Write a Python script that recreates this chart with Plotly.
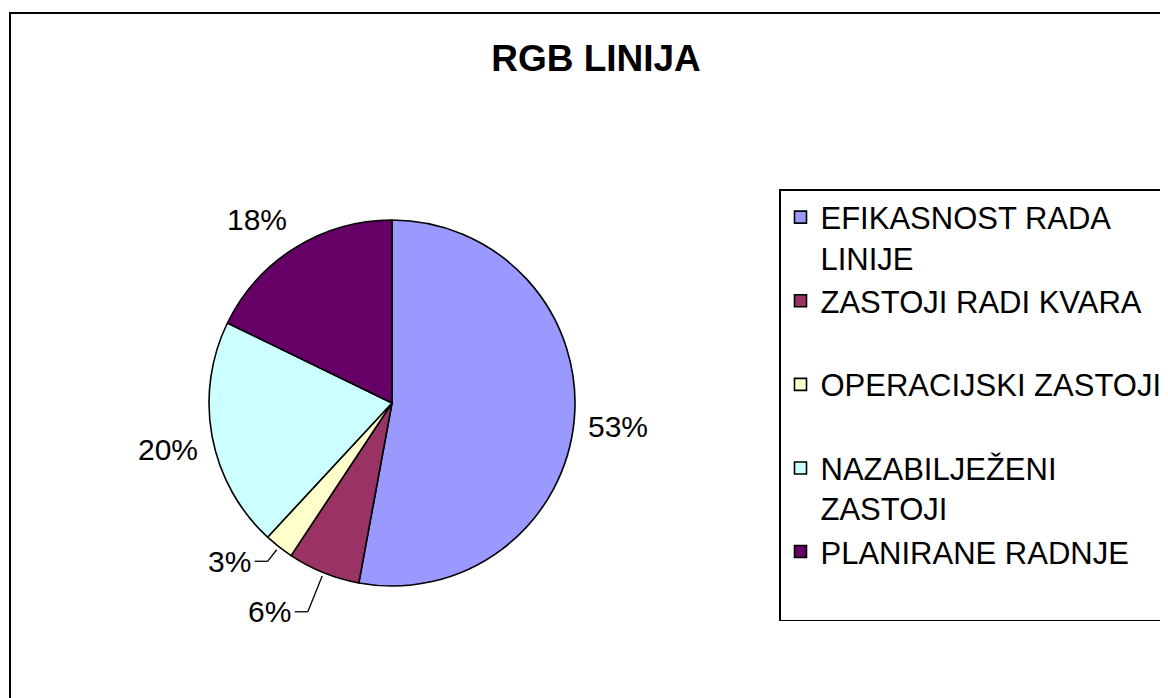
import math
import plotly.graph_objects as go

# ---- data ----
categories = ["EFIKASNOST RADA LINIJE", "ZASTOJI RADI KVARA", "OPERACIJSKI ZASTOJI",
              "NAZABILJEŽENI ZASTOJI", "PLANIRANE RADNJE"]
legend_labels = ["EFIKASNOST RADA<br>LINIJE", "ZASTOJI RADI KVARA<br> ", "OPERACIJSKI ZASTOJI<br> ",
                 "NAZABILJEŽENI<br>ZASTOJI", "PLANIRANE RADNJE<br> "]
values = [52.9, 6.4, 2.6, 20.3, 17.8]
title_text = "RGB LINIJA"

# ---- style / layout ----
colors = ["#9999FF", "#993366", "#FFFFCC", "#CCFFFF", "#660066"]
PAGE_OFF = 8            # default body margin of the html page
W, H = 1160, 690        # figure size (fits the 1168x698 window with the page margin)
CX, CY, R = 392, 403, 183
FONT = "Liberation Sans, Arial, sans-serif"
leader_factor = [None, 1.23, 1.10, None, None]   # radial elbow position for leader lines

def px(x):
    return (x - PAGE_OFF) / W

def py(y):
    return 1 - (y - PAGE_OFF) / H

fig = go.Figure()
fig.add_trace(go.Pie(
    labels=legend_labels,
    values=values,
    sort=False,
    direction="clockwise",
    rotation=0,
    textinfo="none",
    marker=dict(colors=colors, line=dict(color="black", width=1.6)),
    domain=dict(x=[px(CX - R), px(CX + R)], y=[py(CY + R), py(CY - R)]),
    hoverinfo="label+percent",
))

annotations = []
shapes = []
total = sum(values)
cum = 0.0
for i, v in enumerate(values):
    theta = 2 * math.pi * (cum + v / 2) / total
    cum += v
    s, c = math.sin(theta), math.cos(theta)
    dx, dy = s, -c  # screen direction (y down)
    txt = f"{round(v / total * 100)}%"
    lf = leader_factor[i]
    if lf is None:
        gap = 12
        ax, ay = CX + dx * (R + gap), CY + dy * (R + gap)
        xanchor = "left" if s > 0 else "right"
        if c > 0.5:
            yanchor = "bottom"
        elif c < -0.5:
            yanchor = "top"
        else:
            yanchor = "middle"
            ay += -c * 60
        annotations.append(dict(x=px(ax), y=py(ay), xref="paper", yref="paper", text=txt,
                                showarrow=False, xanchor=xanchor, yanchor=yanchor,
                                font=dict(family=FONT, size=30, color="black")))
    else:
        x0, y0 = CX + dx * R * 1.02, CY + dy * R * 1.02
        x1, y1 = CX + dx * R * lf, CY + dy * R * lf
        side = 1 if s > 0 else -1
        x2 = x1 + side * 13
        for (a, b, cc, d) in [(x0, y0, x1, y1), (x1, y1, x2, y1)]:
            shapes.append(dict(type="line", xref="paper", yref="paper",
                               x0=px(a), y0=py(b), x1=px(cc), y1=py(d),
                               line=dict(color="black", width=1.3)))
        annotations.append(dict(x=px(x2 + side * 2), y=py(y1), xref="paper", yref="paper", text=txt,
                                showarrow=False, xanchor="left" if side > 0 else "right",
                                yanchor="middle",
                                font=dict(family=FONT, size=30, color="black")))

# outer chart frame
shapes.append(dict(type="rect", xref="paper", yref="paper",
                   x0=px(10), x1=1.03, y0=-0.03, y1=py(13),
                   line=dict(color="black", width=2), fillcolor="rgba(0,0,0,0)", layer="below"))

fig.update_layout(
    width=W, height=H,
    margin=dict(l=0, r=0, t=0, b=0),
    paper_bgcolor="white",
    plot_bgcolor="white",
    title=dict(text=f"<b>{title_text}</b>", x=px(596), y=py(58), xanchor="center", yanchor="middle",
               xref="paper", yref="paper",
               font=dict(family=FONT, size=37, color="black")),
    showlegend=True,
    legend=dict(x=px(779), y=py(189), xanchor="left", yanchor="top",
                bgcolor="white", bordercolor="black", borderwidth=1.5,
                font=dict(family=FONT, size=31, color="black"),
                valign="top", traceorder="normal"),
    annotations=annotations,
    shapes=shapes,
)

fig.write_html("out.html")
